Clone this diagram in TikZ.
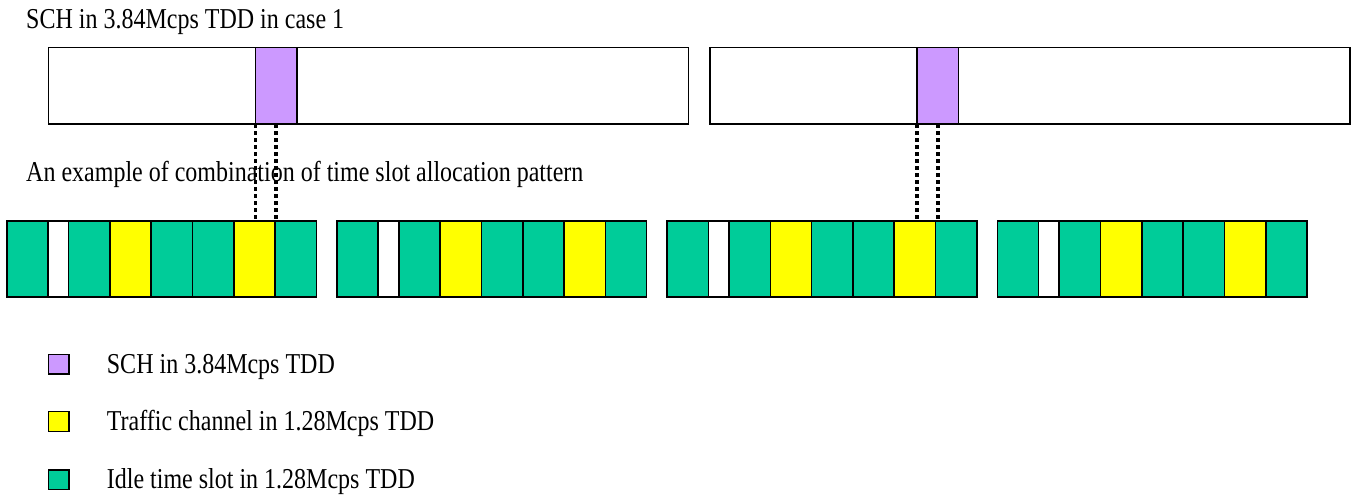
\documentclass[tikz,border=0pt]{standalone}
\usepackage{fontspec}
\setmainfont{Liberation Serif}
\usepackage{graphicx}

\definecolor{schpurple}{HTML}{CC99FF}
\definecolor{trafficyellow}{HTML}{FFFF00}
\definecolor{idlegreen}{HTML}{00CC99}

\tikzset{
    frame/.style={draw, line width=1.5pt, fill=white, inner sep=0, outer sep=0, anchor=north west,
        minimum width=640pt, minimum height=76.3pt},
    sch/.style={draw, line width=1.5pt, fill=schpurple, inner sep=0, outer sep=0, anchor=north west,
        minimum width=41.3pt, minimum height=76.3pt},
    slot/.style={draw, line width=1.6pt, inner sep=0, outer sep=0, anchor=north west, minimum height=76pt},
    key/.style={draw, line width=1.5pt, inner sep=0, outer sep=0, anchor=north west,
        minimum width=20.7pt, minimum height=19.7pt},
    label/.style={inner sep=0, anchor=base west, font=\fontsize{24}{28}\selectfont},
    link/.style={line width=3.8pt, dash pattern=on 3.5pt off 3.5pt},
}

\begin{document}
\begin{tikzpicture}[x=1pt, y=-1pt]
    \useasboundingbox (0,0) rectangle (1356,498);

    \node[label] (title) at (26,28.3) {\scalebox{1}[1.2]{SCH in 3.84Mcps TDD in case 1}};
    \node[label] (example) at (26,181.5) {\scalebox{1}[1.2]{An example of combination of time slot allocation pattern}};

    % 3.84Mcps frames with the SCH slot
    \node[frame] (frame1) at (48.4,47.7) {};
    \node[frame] (frame2) at (709.8,47.7) {};
    \node[sch] (sch1) at (255.5,47.7) {};
    \node[sch] (sch2) at (917.2,47.7) {};

    % 1.28Mcps subframes
    \foreach \g in {0,...,3}{
        \foreach \c/\o/\w [count=\i] in {idlegreen/0/1, white/1/0.5, idlegreen/1.5/1, trafficyellow/2.5/1,
                idlegreen/3.5/1, idlegreen/4.5/1, trafficyellow/5.5/1, idlegreen/6.5/1}
            \node[slot, fill=\c, minimum width=\w*41.3pt] (s\g-\i) at (6.7+330.2*\g+41.3*\o,220.7) {};
    }

    \draw[link] (sch1.south west) -- (sch1.south west |- s0-7.north);
    \draw[link] (sch1.south) -- (sch1.south |- s0-7.north);
    \draw[link] (sch2.south west) -- (sch2.south west |- s2-7.north);
    \draw[link] (sch2.south) -- (sch2.south |- s2-7.north);

    % legend
    \node[key, fill=schpurple] (key1) at (48.3,354.3) {};
    \node[key, fill=trafficyellow] (key2) at (48.3,411.7) {};
    \node[key, fill=idlegreen] (key3) at (48.3,470) {};
    \node[label] (text1) at (106.7,373.5) {\scalebox{1}[1.2]{SCH in 3.84Mcps TDD}};
    \node[label] (text2) at (106.7,430.5) {\scalebox{1}[1.2]{Traffic channel in 1.28Mcps TDD}};
    \node[label] (text3) at (106.7,488.5) {\scalebox{1}[1.2]{Idle time slot in 1.28Mcps TDD}};
\end{tikzpicture}
\end{document}
